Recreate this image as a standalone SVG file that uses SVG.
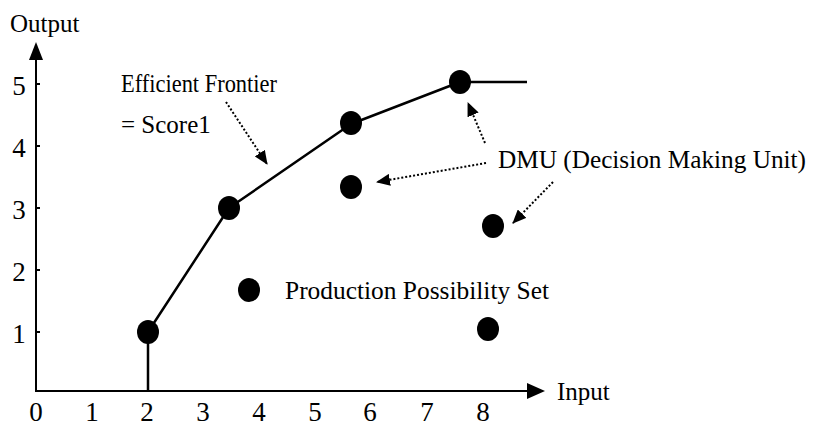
<svg xmlns="http://www.w3.org/2000/svg" width="817" height="427" viewBox="0 0 817 427" font-family="'Liberation Serif', 'DejaVu Serif', 'Times New Roman', serif">
<style>
text{font-family:'Liberation Serif','DejaVu Serif','Times New Roman',serif;fill:#000}
.lbl{font-size:25px}
.num{font-size:27px;text-anchor:middle}
.axis{stroke:#000;stroke-width:2;fill:none}
.front{stroke:#000;stroke-width:2.5;fill:none;stroke-linejoin:round}
.dot{stroke:#000;stroke-width:2;stroke-dasharray:2 2;fill:none}
.pt{fill:#000}
</style>
<defs>
<marker id="ah" viewBox="0 0 14 12" refX="13" refY="6" markerWidth="14" markerHeight="12" markerUnits="userSpaceOnUse" orient="auto">
<path d="M0,0 L14,6 L0,12 Z" fill="#000"/>
</marker>
</defs>
<rect width="817" height="427" fill="#fff"/>
<g id="axes">
<line class="axis" x1="36" y1="392" x2="36" y2="58"/>
<path d="M36,42 L29,60 L43,60 Z" fill="#000"/>
<line class="axis" x1="35" y1="391" x2="528" y2="391"/>
<path d="M545,391 L527,383 L527,399 Z" fill="#000"/>
<line class="axis" x1="36" y1="84" x2="40" y2="84"/>
<line class="axis" x1="36" y1="146" x2="40" y2="146"/>
<line class="axis" x1="36" y1="208" x2="40" y2="208"/>
<line class="axis" x1="36" y1="270" x2="40" y2="270"/>
<line class="axis" x1="36" y1="332" x2="40" y2="332"/>
<text class="lbl" x="10" y="32">Output</text>
<text class="lbl" x="557" y="400">Input</text>
<text class="num" x="19" y="95">5</text>
<text class="num" x="19" y="157">4</text>
<text class="num" x="19" y="219">3</text>
<text class="num" x="19" y="281">2</text>
<text class="num" x="19" y="343">1</text>
<text class="num" x="36" y="421">0</text>
<text class="num" x="92" y="421">1</text>
<text class="num" x="147" y="421">2</text>
<text class="num" x="203" y="421">3</text>
<text class="num" x="259" y="421">4</text>
<text class="num" x="315" y="421">5</text>
<text class="num" x="370" y="421">6</text>
<text class="num" x="427" y="421">7</text>
<text class="num" x="483" y="421">8</text>
</g>
<g id="frontier">
<polyline class="front" points="148,392 148,332 229,208 351,124 460,82 527,82"/>
</g>
<g id="points">
<ellipse id="p1" class="pt" cx="148" cy="332" rx="11" ry="12"/>
<ellipse id="p2" class="pt" cx="229" cy="208" rx="11" ry="12"/>
<ellipse id="p3" class="pt" cx="351" cy="123" rx="11" ry="12"/>
<ellipse id="p4" class="pt" cx="460" cy="82" rx="11" ry="12"/>
<ellipse id="p5" class="pt" cx="351" cy="187" rx="11" ry="12"/>
<ellipse id="p6" class="pt" cx="493" cy="226" rx="11" ry="12"/>
<ellipse id="p7" class="pt" cx="249" cy="290" rx="11" ry="12"/>
<ellipse id="p8" class="pt" cx="488" cy="329" rx="11" ry="12"/>
</g>
<g id="labels">
<text class="lbl" x="121" y="92" textLength="156" lengthAdjust="spacingAndGlyphs">Efficient Frontier</text>
<text class="lbl" x="121" y="133">= Score1</text>
<text class="lbl" x="498" y="168" textLength="308" lengthAdjust="spacingAndGlyphs">DMU (Decision Making Unit)</text>
<text class="lbl" x="285" y="299" textLength="264" lengthAdjust="spacingAndGlyphs">Production Possibility Set</text>
</g>
<g id="connectors">
<line class="dot" x1="226" y1="102" x2="267" y2="164" marker-end="url(#ah)"/>
<line class="dot" x1="485" y1="143" x2="468" y2="103" marker-end="url(#ah)"/>
<line class="dot" x1="486" y1="163" x2="377" y2="182" marker-end="url(#ah)"/>
<line class="dot" x1="553" y1="182" x2="513" y2="223" marker-end="url(#ah)"/>
</g>
</svg>
